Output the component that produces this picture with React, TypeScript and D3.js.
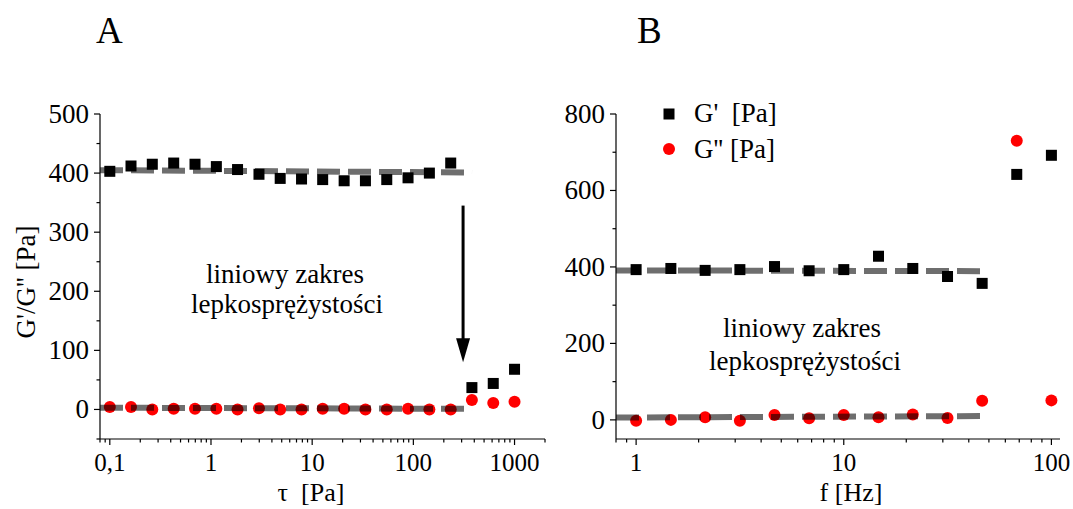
import React from "react";
import * as d3 from "d3";

// ---------- Data ----------
// Panel A: amplitude sweep (tau in Pa)
const tauA = [0.1, 0.162, 0.263, 0.428, 0.695, 1.13, 1.83, 2.98, 4.83, 7.85, 12.7, 20.7, 33.6, 54.6, 88.6, 144, 234, 379, 616, 1000];
const gPrimeA = [403, 412, 415, 417, 415, 411, 406, 398, 391, 390, 389, 387, 387, 389, 392, 400, 417, 37, 44, 68];
const gDoubleA = [4, 4, 0, 1, 1, 1, 0, 2, 0, 0, 1, 1, 0, 0, 1, 0, 0, 16, 11, 13];
const fitA_G1 = [[0.08, 405], [380, 401]];
const fitA_G2 = [[0.08, 3], [380, 1]];
const arrowA = [[310, 345], [310, 80]];

// Panel B: frequency sweep (f in Hz)
const freqB = [1, 1.47, 2.15, 3.16, 4.64, 6.81, 10, 14.7, 21.5, 31.6, 46.4, 68.1, 100];
const gPrimeB = [393, 396, 391, 393, 401, 390, 393, 428, 396, 375, 357, 642, 692];
const gDoubleB = [-2, 0, 7, -2, 13, 4, 13, 7, 14, 5, 50, 730, 51];
const fitB_G1 = [[0.8, 391], [48, 389]];
const fitB_G2 = [[0.8, 6], [48, 10]];

// Ticks
const yTicksA = [0, 100, 200, 300, 400, 500];
const yMinorA = [-50, 50, 150, 250, 350, 450];
const xTicksA = [0.1, 1, 10, 100, 1000];
const xTickLabelsA = ["0,1", "1", "10", "100", "1000"];
const yTicksB = [0, 200, 400, 600, 800];
const yMinorB = [100, 300, 500, 700];
const xTicksB = [1, 10, 100];
const xTickLabelsB = ["1", "10", "100"];

const FONT = "Liberation Serif, Times New Roman, Tinos, serif";
const FS = 26;

function minorLogTicks(lo: number, hi: number) {
  const out: number[] = [];
  for (let e = -2; e <= 4; e++) {
    for (let m = 2; m <= 9; m++) {
      const v = m * Math.pow(10, e);
      if (v >= lo * 0.9999 && v <= hi * 1.0001) out.push(v);
    }
  }
  return out;
}

type PanelProps = {
  x0: number; x1: number; y0: number; y1: number;
  xDom: [number, number]; yDom: [number, number];
  xs: number[]; g1: number[]; g2: number[];
  fits: number[][][];
  yTicks: number[]; yMinor: number[];
  xTicks: number[]; xLabels: string[];
  xTitle: string; xTitleX: number;
};

function Panel(p: PanelProps) {
  const x = d3.scaleLog().domain(p.xDom).range([p.x0, p.x1]);
  const y = d3.scaleLinear().domain(p.yDom).range([p.y1, p.y0]);
  const minors = minorLogTicks(p.xDom[0], p.xDom[1]);
  const line = d3.line<number[]>().x((d) => x(d[0])).y((d) => y(d[1]));
  const sq = 11;
  return (
    <g>
      <line x1={p.x0} x2={p.x0} y1={p.y0} y2={p.y1} stroke="#000" strokeWidth={1.2} />
      <line x1={p.x0} x2={p.x1} y1={p.y1} y2={p.y1} stroke="#000" strokeWidth={1.2} />
      {p.yTicks.map((t) => (
        <g key={"yt" + t}>
          <line x1={p.x0 - 6} x2={p.x0} y1={y(t)} y2={y(t)} stroke="#000" strokeWidth={1.2} />
          <text x={p.x0 - 11} y={y(t) + 9} textAnchor="end" fontSize={FS + 1}>{t}</text>
        </g>
      ))}
      {p.yMinor.map((t) => (
        <line key={"ym" + t} x1={p.x0 - 3.5} x2={p.x0} y1={y(t)} y2={y(t)} stroke="#000" strokeWidth={1.2} />
      ))}
      {p.xTicks.map((t, i) => (
        <g key={"xt" + t}>
          <line x1={x(t)} x2={x(t)} y1={p.y1} y2={p.y1 + 6} stroke="#000" strokeWidth={1.2} />
          <text x={x(t)} y={p.y1 + 32} textAnchor="middle" fontSize={FS - 1}>{p.xLabels[i]}</text>
        </g>
      ))}
      {minors.map((t) => (
        <line key={"xm" + t} x1={x(t)} x2={x(t)} y1={p.y1} y2={p.y1 + 3.5} stroke="#000" strokeWidth={1.2} />
      ))}
      <text x={p.xTitleX} y={p.y1 + 62} textAnchor="middle" fontSize={FS} style={{ whiteSpace: "pre" }}>{p.xTitle}</text>
      {p.xs.map((v, i) => (
        <rect key={"s" + i} x={x(v) - sq / 2} y={y(p.g1[i]) - sq / 2} width={sq} height={sq} fill="#000" />
      ))}
      {p.xs.map((v, i) => (
        <circle key={"c" + i} cx={x(v)} cy={y(p.g2[i])} r={6} fill="#ff0000" />
      ))}
      {p.fits.map((f, i) => (
        <path key={"f" + i} d={line(f) || ""} stroke="#000" strokeOpacity={0.57} strokeWidth={6} strokeDasharray="23 8" fill="none" />
      ))}
    </g>
  );
}

export default function App() {
  const xA = d3.scaleLog().domain([0.08, 2000]).range([100, 545]);
  const yA = d3.scaleLinear().domain([-50, 500]).range([439, 114]);
  const ax = xA(arrowA[0][0]);
  const ay0 = yA(arrowA[0][1]);
  const ay1 = yA(arrowA[1][1]);
  return (
    <svg width={1073} height={509} fontFamily={FONT} style={{ position: "absolute", left: 0, top: 0, background: "#fff", fontFamily: FONT }}>
      <rect width={1073} height={509} fill="#fff" />
      <text x={96} y={43} fontSize={37}>A</text>
      <text x={637} y={43} fontSize={37}>B</text>

      <Panel x0={100} x1={545} y0={114} y1={439} xDom={[0.08, 2000]} yDom={[-50, 500]}
        xs={tauA} g1={gPrimeA} g2={gDoubleA} fits={[fitA_G1, fitA_G2]}
        yTicks={yTicksA} yMinor={yMinorA} xTicks={xTicksA} xLabels={xTickLabelsA}
        xTitle={"τ  [Pa]"} xTitleX={311} />
      <Panel x0={616} x1={1060} y0={114} y1={439} xDom={[0.8, 110]} yDom={[-50, 800]}
        xs={freqB} g1={gPrimeB} g2={gDoubleB} fits={[fitB_G1, fitB_G2]}
        yTicks={yTicksB} yMinor={yMinorB} xTicks={xTicksB} xLabels={xTickLabelsB}
        xTitle={"f [Hz]"} xTitleX={851} />

      <text transform="translate(35,282) rotate(-90)" textAnchor="middle" fontSize={FS + 1}>G'/G'' [Pa]</text>

      <line x1={ax} x2={ax} y1={ay0} y2={ay1 - 22} stroke="#000" strokeWidth={3} />
      <polygon points={`${ax - 7},${ay1 - 24} ${ax + 7},${ay1 - 24} ${ax},${ay1}`} fill="#000" />

      <text x={285} y={283} textAnchor="middle" fontSize={FS + 1}>liniowy zakres</text>
      <text x={287} y={313} textAnchor="middle" fontSize={FS + 1}>lepkosprężystości</text>
      <text x={802} y={337} textAnchor="middle" fontSize={FS + 1}>liniowy zakres</text>
      <text x={805} y={370} textAnchor="middle" fontSize={FS + 1}>lepkosprężystości</text>

      <rect x={669 - 5.5} y={114 - 5.5} width={11} height={11} fill="#000" />
      <text x={694} y={122} fontSize={FS + 1} style={{ whiteSpace: "pre" }}>{"G'  [Pa]"}</text>
      <circle cx={669} cy={149} r={6} fill="#ff0000" />
      <text x={694} y={158} fontSize={FS + 1} style={{ whiteSpace: "pre" }}>{"G'' [Pa]"}</text>
    </svg>
  );
}
